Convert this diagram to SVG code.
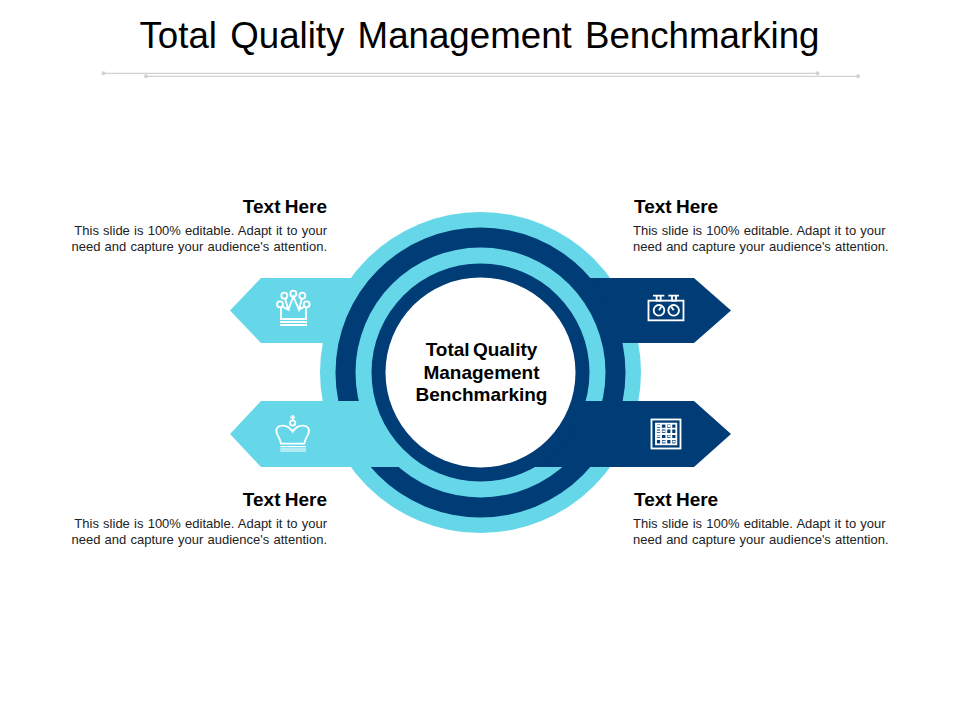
<svg xmlns="http://www.w3.org/2000/svg" width="960" height="720" viewBox="0 0 960 720">
<style>
text{font-family:"Liberation Sans",Arial,sans-serif;fill:#000}
.title{font-size:36.7px;word-spacing:3px}
.h{font-size:19px;font-weight:700;word-spacing:-1px}
.b{font-size:13px;fill:#222;word-spacing:.6px}
.c{font-size:19px;font-weight:700;text-anchor:middle;word-spacing:-2px}
.r{text-anchor:end}
.rule{stroke:#d2d2d2;stroke-width:1.2;fill:none}
.dot{fill:#d2d2d2}
.l{fill:#66d7e8}
.d{fill:#003c76}
.i{fill:none;stroke:#fff;stroke-width:5.500}
</style>
<rect width="960" height="720" fill="#fff"/>
<text class="title" x="479.500" y="48" text-anchor="middle">Total Quality Management Benchmarking</text>
<g id="title-rule">
<path class="rule" d="M103.500 73.300H817.500M146 76.300H858"/>
<circle class="dot" cx="103.500" cy="73.300" r="2"/><circle class="dot" cx="817.500" cy="73.300" r="2"/>
<circle class="dot" cx="146" cy="76.300" r="2"/><circle class="dot" cx="858" cy="76.300" r="2"/>
</g>
<g id="center-rings">
<circle class="l" cx="480.500" cy="372.500" r="160.500"/>
<path class="l" d="M480 278H261L230 310.500L261 343H480Z"/>
<path class="d" d="M480 278H694L731 310.500L694 343H480Z"/>
<circle class="d" cx="480.500" cy="372.500" r="145"/>
<circle class="l" cx="480.500" cy="372.500" r="125"/>
<path class="l" d="M481 401H261L230 434L261 467H481Z"/>
<path class="d" d="M480 401H694L731 434L694 467H480Z"/>
<circle class="d" cx="480.500" cy="372.500" r="109"/>
<circle fill="#fff" cx="480.500" cy="372.500" r="95"/>
<text class="c" x="481.500" y="356">Total Quality</text>
<text class="c" x="481.500" y="379">Management</text>
<text class="c" x="481.500" y="401">Benchmarking</text>
</g>
<g id="node-top-left">
<g class="i" transform="translate(225 270) scale(.3333)">
<circle cx="178" cy="77" r="9"/><circle cx="205" cy="71" r="9"/><circle cx="232" cy="77" r="9"/><circle cx="165" cy="103" r="9"/><circle cx="245" cy="103" r="9"/>
<path d="M172 110L190 119L180 85M190 119L205 80L222 119L231 85M222 119L238 110M168 112V147H243V112"/>
<path d="M165 147H246M165 156H246M165 165H246"/>
</g>
<text class="h r" x="327" y="213">Text Here</text>
<text class="b r" x="327" y="235">This slide is 100% editable. Adapt it to your</text>
<text class="b r" x="327" y="251">need and capture your audience's attention.</text>
</g>
<g id="node-top-right">
<g class="i" transform="translate(575 270) scale(.3333)">
<rect x="220.500" y="92" width="105" height="59"/>
<circle cx="252" cy="121" r="16"/><circle cx="296" cy="121" r="16"/>
<path d="M252 121L259 110M296 121L289 110M234 77H268M280 77H312M245 78V92H257V78M291 78V92H303V78"/>
</g>
<text class="h" x="634" y="213">Text Here</text>
<text class="b" x="633" y="235">This slide is 100% editable. Adapt it to your</text>
<text class="b" x="633" y="251">need and capture your audience's attention.</text>
</g>
<g id="node-bottom-left">
<g class="i" transform="translate(225 270) scale(.3333)">
<path d="M203 435V450M196 442H210"/><circle cx="203" cy="459" r="8"/>
<path d="M168 521C165 500 153 495 154 481C156 465 185 458 203 485C221 458 250 465 252 481C253 495 241 500 238 521Z"/>
<path d="M203 485V478M166 530H243M166 537H243M166 543H243" stroke-width="3.500"/>
</g>
<text class="h r" x="327" y="506">Text Here</text>
<text class="b r" x="327" y="528">This slide is 100% editable. Adapt it to your</text>
<text class="b r" x="327" y="544">need and capture your audience's attention.</text>
</g>
<g id="node-bottom-right">
<g class="i" transform="translate(575 270) scale(.3333)">
<rect x="229.500" y="448.500" width="87" height="87"/>
<rect x="243" y="461" width="61" height="62"/>
<path d="M258 461V523M274 461V523M289 461V523M243 476H304M243 492H304M243 507H304"/>
<path d="M246 468H255M278 468H286M246 484H255M262 484H271M246 499H255M278 499H286M262 515H271M293 515H300"/>
</g>
<text class="h" x="634" y="506">Text Here</text>
<text class="b" x="633" y="528">This slide is 100% editable. Adapt it to your</text>
<text class="b" x="633" y="544">need and capture your audience's attention.</text>
</g>
</svg>
